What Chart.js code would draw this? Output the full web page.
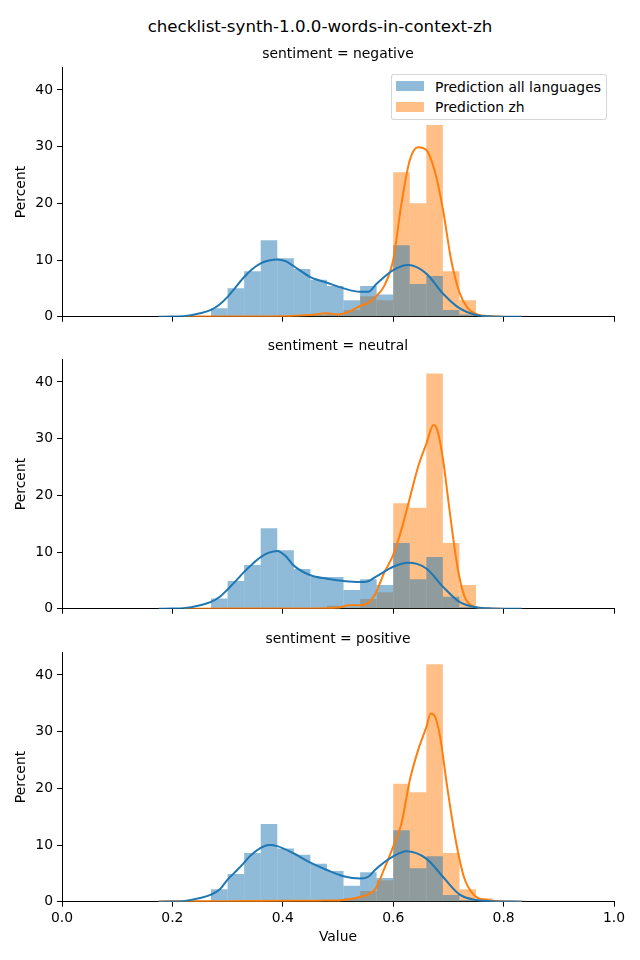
<!DOCTYPE html>
<html>
<head>
<meta charset="utf-8">
<script src="https://cdn.jsdelivr.net/npm/chart.js@4"></script>
<style>
  html, body { margin: 0; padding: 0; background: #fff; }
  body { width: 640px; height: 960px; position: relative; overflow: hidden; font-family: "DejaVu Sans", sans-serif; color: #000; }
  #title { position: absolute; left: 0; top: 17px; width: 640px; text-align: center; font-size: 16.67px; line-height: 20px; }
  canvas.panel { position: absolute; left: 0; }
  #legend { position: absolute; left: 391px; top: 74px; width: 216px; height: 46px; box-sizing: border-box;
            border: 1px solid rgba(204,204,204,0.8); border-radius: 3px; background: rgba(255,255,255,0.8); }
  .patch { position: absolute; width: 28px; height: 10px; }
  .lbl { position: absolute; font-size: 13.9px; line-height: 16px; white-space: nowrap; }
</style>
</head>
<body>
<div id="title">checklist-synth-1.0.0-words-in-context-zh</div>
<div id="legend"></div>
<script>
// ---------------- dados ----------------
const PANEL_TITLES = ["sentiment = negative", "sentiment = neutral", "sentiment = positive"];
const SERIES = ["Prediction all languages", "Prediction zh"];
const X_TICKS = [0, 0.2, 0.4, 0.6, 0.8, 1.0];
const Y_TICKS = [0, 10, 20, 30, 40];

// centros dos bins (largura 0.03)
const BINS = [0.195, 0.225, 0.255, 0.285, 0.315, 0.345, 0.375, 0.405, 0.435, 0.465, 0.495,
              0.525, 0.555, 0.585, 0.615, 0.645, 0.675, 0.705, 0.735, 0.765, 0.795, 0.825];

// percent por bin
const ALL_NEG = [0, 0, 0, 1.5, 5.0, 8.0, 13.5, 10.3, 8.4, 6.5, 5.4, 2.9, 5.4, 3.9, 12.6, 5.75, 7.2, 1.2, 0.4, 0, 0, 0];
const ZH_NEG  = [0, 0, 0, 0, 0, 0, 0, 0, 0, 0.3, 0.5, 1.2, 3.6, 2.9, 25.5, 20.0, 33.8, 8.0, 2.9, 0.3, 0, 0];
const ALL_NEU = [0, 0, 0, 1.8, 4.9, 7.7, 14.2, 10.3, 7.0, 5.6, 5.6, 3.3, 5.2, 4.2, 11.6, 5.2, 9.1, 2.1, 0.3, 0, 0, 0];
const ZH_NEU  = [0, 0, 0, 0, 0, 0, 0, 0, 0, 0, 0.5, 0.2, 1.7, 2.9, 18.6, 17.8, 41.5, 11.6, 4.2, 0, 0, 0];
const ALL_POS = [0.15, 0.15, 0.15, 2.2, 4.9, 8.6, 13.7, 9.4, 8.3, 6.7, 5.4, 2.8, 5.2, 4.2, 12.6, 5.9, 8.0, 1.2, 0.3, 0.15, 0.15, 0.15];
const ZH_POS  = [0.15, 0.15, 0.15, 0, 0, 0, 0, 0, 0, 0, 0.3, 0.6, 1.9, 3.8, 20.8, 19.3, 41.9, 8.6, 2.2, 0.6, 0.15, 0.15];

// curvas kde
const KX_ALL_NEG = [0.175, 0.20, 0.22, 0.25, 0.27, 0.286, 0.30, 0.313, 0.33, 0.345, 0.36, 0.375, 0.39, 0.405, 0.42, 0.45, 0.48, 0.51, 0.54, 0.555, 0.57, 0.60, 0.627, 0.66, 0.69, 0.72, 0.75, 0.78, 0.833];
const KY_ALL_NEG = [0, 0.02, 0.08, 0.6, 1.2, 2.2, 3.5, 5.0, 7.0, 8.4, 9.4, 9.9, 10.1, 9.8, 8.9, 7.0, 6.0, 5.0, 4.4, 4.4, 5.8, 8.2, 9.1, 7.6, 4.1, 1.5, 0.3, 0.05, 0];
const KX_ZH_NEG  = [0.22, 0.30, 0.40, 0.45, 0.48, 0.50, 0.52, 0.538, 0.556, 0.568, 0.583, 0.60, 0.615, 0.63, 0.645, 0.66, 0.675, 0.69, 0.705, 0.72, 0.735, 0.75, 0.77, 0.80];
const KY_ZH_NEG  = [0, 0.05, 0.1, 0.3, 0.6, 0.4, 0.9, 1.8, 2.5, 3.5, 5.3, 10.0, 20.0, 27.6, 29.9, 29.4, 25.8, 19.0, 10.0, 4.3, 1.5, 0.5, 0.1, 0];

const KX_ALL_NEU = [0.175, 0.20, 0.22, 0.25, 0.27, 0.286, 0.30, 0.315, 0.33, 0.345, 0.36, 0.375, 0.39, 0.405, 0.42, 0.45, 0.48, 0.51, 0.54, 0.553, 0.568, 0.60, 0.627, 0.66, 0.69, 0.72, 0.75, 0.78, 0.833];
const KY_ALL_NEU = [0, 0.02, 0.08, 0.6, 1.2, 2.1, 3.4, 4.9, 6.5, 7.9, 9.1, 9.9, 10.2, 9.3, 7.6, 5.9, 5.3, 4.9, 4.7, 4.8, 5.6, 7.4, 8.1, 7.1, 3.9, 1.2, 0.25, 0.05, 0];
const KX_ZH_NEU  = [0.22, 0.30, 0.40, 0.48, 0.502, 0.52, 0.538, 0.553, 0.568, 0.583, 0.60, 0.615, 0.63, 0.645, 0.66, 0.673, 0.68, 0.69, 0.70, 0.71, 0.72, 0.73, 0.745, 0.77, 0.80];
const KY_ZH_NEU  = [0, 0.02, 0.05, 0.1, 0.2, 0.6, 0.6, 0.9, 2.7, 6.2, 9.5, 14.0, 19.5, 25.0, 29.1, 32.4, 31.5, 26.5, 19.0, 11.5, 5.5, 2.0, 0.4, 0.05, 0];

const KX_ALL_POS = [0.175, 0.20, 0.22, 0.25, 0.27, 0.286, 0.30, 0.3165, 0.33, 0.34, 0.36, 0.375, 0.39, 0.42, 0.45, 0.48, 0.51, 0.54, 0.555, 0.568, 0.60, 0.624, 0.66, 0.69, 0.72, 0.75, 0.78, 0.833];
const KY_ALL_POS = [0, 0.03, 0.1, 0.65, 1.25, 2.2, 3.9, 5.5, 6.9, 8.0, 9.5, 10.0, 9.8, 8.5, 6.9, 5.6, 4.5, 4.1, 4.4, 5.7, 8.0, 8.9, 7.6, 4.4, 1.3, 0.3, 0.1, 0];
const KX_ZH_POS  = [0.175, 0.30, 0.42, 0.48, 0.51, 0.538, 0.555, 0.568, 0.583, 0.60, 0.615, 0.63, 0.645, 0.66, 0.668, 0.676, 0.685, 0.697, 0.712, 0.728, 0.746, 0.77, 0.80, 0.833];
const KY_ZH_POS  = [0.05, 0.1, 0.15, 0.2, 0.3, 0.8, 1.3, 2.3, 5.6, 9.7, 13.8, 21.4, 26.7, 30.8, 33.2, 32.6, 29.1, 20.8, 11.5, 4.4, 1.2, 0.3, 0.05, 0];

// ---------------- estilo ----------------
const BLUE = "#1f77b4", ORANGE = "#ff7f0e";
const BLUE_FILL = "rgba(31,119,180,0.5)", ORANGE_FILL = "rgba(255,127,14,0.5)";
const FS = 13.9;

Chart.defaults.font.family = "'DejaVu Sans', sans-serif";
Chart.defaults.font.size = FS;
Chart.defaults.color = "#000";

const pts = (xs, ys) => xs.map((x, i) => ({ x, y: ys[i] }));
const bars = (vals) => BINS.map((x, i) => ({ x, y: vals[i] })).filter(p => p.y > 0);

// posição de cada painel: topo do canvas, altura, altura do eixo x
const PANELS = [
  { top: 40,  h: 290, xh: 13.3, all: ALL_NEG, zh: ZH_NEG, ka: [KX_ALL_NEG, KY_ALL_NEG], kz: [KX_ZH_NEG, KY_ZH_NEG] },
  { top: 332, h: 290, xh: 13.3, all: ALL_NEU, zh: ZH_NEU, ka: [KX_ALL_NEU, KY_ALL_NEU], kz: [KX_ZH_NEU, KY_ZH_NEU] },
  { top: 625, h: 335, xh: 58.3, all: ALL_POS, zh: ZH_POS, ka: [KX_ALL_POS, KY_ALL_POS], kz: [KX_ZH_POS, KY_ZH_POS] },
];

const barOpts = { grouped: false, categoryPercentage: 1, barPercentage: 1, borderWidth: 0, inflateAmount: 0 };
const lineOpts = { type: "line", borderWidth: 2, pointRadius: 0, fill: false, cubicInterpolationMode: "monotone" };

PANELS.forEach((p, i) => {
  const last = i === PANELS.length - 1;
  const cv = document.createElement("canvas");
  cv.className = "panel";
  cv.width = 640; cv.height = p.h;
  cv.style.top = p.top + "px";
  document.body.appendChild(cv);

  new Chart(cv, {
    type: "bar",
    data: {
      datasets: [
        { ...lineOpts, label: SERIES[0] + " kde", data: pts(...p.ka), borderColor: BLUE, order: 0 },
        { ...lineOpts, label: SERIES[1] + " kde", data: pts(...p.kz), borderColor: ORANGE, order: 1 },
        { ...barOpts, label: SERIES[0], data: bars(p.all), backgroundColor: BLUE_FILL, order: 2 },
        { ...barOpts, label: SERIES[1], data: bars(p.zh), backgroundColor: ORANGE_FILL, order: 3 },
      ]
    },
    options: {
      responsive: false, animation: false, devicePixelRatio: 1, events: [],
      layout: { padding: { left: 0, right: 26, top: 0, bottom: 0 } },
      plugins: {
        legend: { display: false },
        tooltip: { enabled: false },
        title: {
          display: true, text: PANEL_TITLES[i], fullSize: false, color: "#000",
          font: { size: FS, weight: "normal", lineHeight: 1.2 },
          padding: { top: 5.96, bottom: 4.66 }
        }
      },
      scales: {
        x: {
          type: "linear", min: 0, max: 1, offset: false,
          afterBuildTicks: (s) => { s.ticks = X_TICKS.map(v => ({ value: v })); },
          afterFit: (s) => { s.height = p.xh; },
          ticks: { display: last, autoSkip: false, maxRotation: 0, padding: 3, callback: (v) => Number(v).toFixed(1) },
          grid: { display: true, offset: false, drawOnChartArea: false, drawTicks: true, tickLength: 5, tickWidth: 1, tickColor: "#000" },
          border: { display: true, color: "#000", width: 1 },
          title: { display: last, text: "Value", font: { size: FS, lineHeight: 1.2 }, padding: { top: 0, bottom: 14.4 } }
        },
        y: {
          type: "linear", min: 0, max: 44,
          afterBuildTicks: (s) => { s.ticks = Y_TICKS.map(v => ({ value: v })); },
          afterFit: (s) => { s.width = 62; },
          ticks: { padding: 4, callback: (v) => String(v) },
          grid: { display: true, drawOnChartArea: false, drawTicks: true, tickLength: 5, tickWidth: 1, tickColor: "#000" },
          border: { display: true, color: "#000", width: 1 },
          title: { display: true, text: "Percent", font: { size: FS, lineHeight: 1.2 }, padding: { top: 13.4, bottom: 0 } }
        }
      }
    }
  });
});

// legenda (painel de cima)
const legend = document.getElementById("legend");
[BLUE_FILL, ORANGE_FILL].forEach((c, k) => {
  const patch = document.createElement("div");
  patch.className = "patch";
  patch.style.background = c;
  patch.style.left = "4px"; patch.style.top = (6 + k * 21) + "px";
  legend.appendChild(patch);
  const lbl = document.createElement("div");
  lbl.className = "lbl";
  lbl.textContent = SERIES[k];
  lbl.style.left = "43px"; lbl.style.top = (3.7 + k * 20.5) + "px";
  legend.appendChild(lbl);
});
</script>
</body>
</html>
